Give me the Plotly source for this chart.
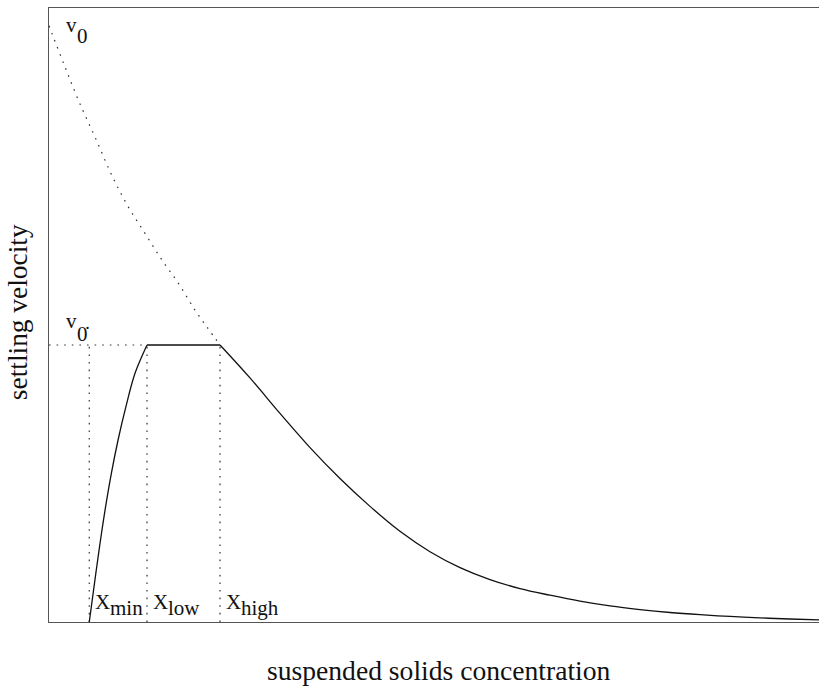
import plotly.graph_objects as go

# ---- data (arbitrary units) ----
X_MIN, X_LOW, X_HIGH = 52.3, 127.3, 222.1   # characteristic concentrations
V0, V0P = 97.1, 45.11                        # v0 and v0'

# settling velocity curve: rising part (X_MIN -> X_LOW)
rise_x = [52.3, 60.8, 66.9, 73.5, 81.0, 89.7, 99.9, 111.7, 127.3]
rise_y = [0, 7.93, 13.36, 18.78, 24.22, 29.64, 35.07, 40.50, 45.11]

# flat part at v0'
flat_x = [X_LOW, X_HIGH]
flat_y = [V0P, V0P]

# decaying part (X_HIGH -> end)
decay_x = [222.1, 261.0, 300.0, 339.0, 377.9, 416.9, 455.8, 494.8, 533.8, 572.7,
           611.7, 650.6, 689.6, 728.6, 767.5, 806.5, 845.5, 884.4, 923.4, 962.3, 1000]
decay_y = [45.11, 39.75, 33.97, 28.40, 23.37, 18.83, 14.77, 11.45, 8.86, 6.91,
           5.44, 4.36, 3.39, 2.61, 2.02, 1.55, 1.19, 0.90, 0.67, 0.49, 0.34]

# dotted v0 curve
v0curve_x = [0, 4.3, 20.8, 38.1, 59.7, 81.4, 103, 124.7, 146.4, 167.9, 189.6, 206, 222.1]
v0curve_y = [97.1, 95.7, 90.4, 85.0, 79.0, 72.8, 67.6, 63.3, 59.0, 55.2, 50.8, 47.9, 45.11]

FONT = "Liberation Serif"
DOT = "1.6px,6px"
DOTCOL = "#333"
LINECOL = "#111"

fig = go.Figure()

# dotted guide lines
guide_x = [0, X_LOW, None, X_MIN, X_MIN, None, X_LOW, X_LOW, None, X_HIGH, X_HIGH]
guide_y = [V0P, V0P, None, 0, V0P, None, 0, V0P, None, 0, V0P]
fig.add_trace(go.Scatter(x=guide_x, y=guide_y, mode="lines",
                         line=dict(color=DOTCOL, width=1.2, dash=DOT),
                         connectgaps=False, hoverinfo="skip"))
fig.add_trace(go.Scatter(x=v0curve_x, y=v0curve_y, mode="lines",
                         line=dict(color=DOTCOL, width=1.2, dash=DOT, shape="spline"),
                         hoverinfo="skip"))

# solid settling velocity curve
fig.add_trace(go.Scatter(x=rise_x, y=rise_y, mode="lines",
                         line=dict(color=LINECOL, width=1.3, shape="spline")))
fig.add_trace(go.Scatter(x=flat_x, y=flat_y, mode="lines",
                         line=dict(color=LINECOL, width=1.3)))
fig.add_trace(go.Scatter(x=decay_x, y=decay_y, mode="lines",
                         line=dict(color=LINECOL, width=1.3, shape="spline")))

def lab(text, x, y, xs, ys, size=21):
    fig.add_annotation(text=text, x=x, y=y, xref="x", yref="y",
                       xanchor="left", yanchor="middle", showarrow=False,
                       xshift=xs, yshift=ys,
                       font=dict(family=FONT, size=size, color="#111"))

# v0 label
lab("v", 0, V0, 15, 1)
lab("0", 0, V0, 26, -10)
# v0' label (prime drawn as a dot above the subscript)
lab("v", 0, V0P, 15, 24)
lab("0\u0307", 0, V0P, 26, 11.5)
# X labels
for xv, sub in [(X_MIN, "min"), (X_LOW, "low"), (X_HIGH, "high")]:
    lab("X", xv, 0, 4, 20)
    lab(sub, xv, 0, 19, 14)

# axis titles
fig.add_annotation(text="suspended solids concentration", xref="paper", yref="paper",
                   x=0.5065, y=-0.0785, xanchor="center", yanchor="middle",
                   showarrow=False, font=dict(family=FONT, size=27.6, color="#111"))
fig.add_annotation(text="settling velocity", xref="paper", yref="paper",
                   x=-0.0408, y=0.504, xanchor="center", yanchor="middle",
                   textangle=-90, showarrow=False,
                   font=dict(family=FONT, size=27.4, color="#111"))

axis_common = dict(showgrid=False, zeroline=False, showticklabels=False, ticks="",
                   showline=True, mirror=True, linecolor="#555", linewidth=1.2)
fig.update_layout(
    width=819, height=690,
    margin=dict(l=49, r=0, t=8, b=68),
    paper_bgcolor="white", plot_bgcolor="white",
    showlegend=False,
    xaxis=dict(range=[0, 1000], **axis_common),
    yaxis=dict(range=[0, 100], **axis_common),
)

fig.write_html("out.html")
